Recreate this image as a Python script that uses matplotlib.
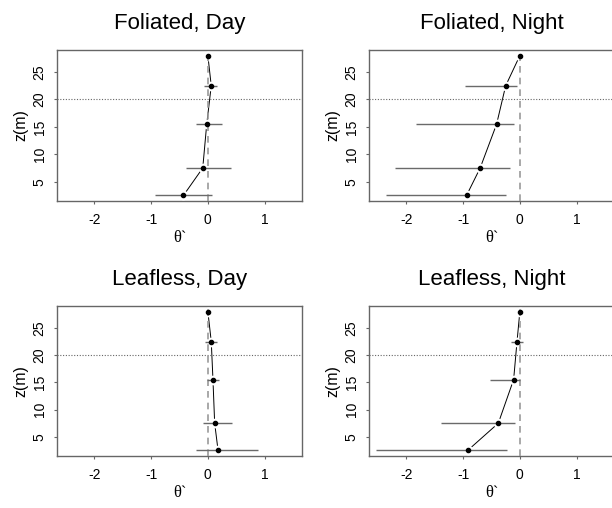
import matplotlib
matplotlib.use("Agg")
import matplotlib.pyplot as plt

plt.rcParams["font.family"] = ["Liberation Sans", "DejaVu Sans"]
plt.rcParams["axes.unicode_minus"] = False

z = [28, 22.5, 15.5, 7.5, 2.5]

titles = ["Foliated, Day", "Foliated, Night", "Leafless, Day", "Leafless, Night"]

# theta' profiles with lower / upper error-bar ends
theta = [
    [0.0, 0.06, -0.02, -0.09, -0.43],
    [0.0, -0.25, -0.41, -0.70, -0.94],
    [0.0, 0.06, 0.09, 0.12, 0.18],
    [0.0, -0.05, -0.11, -0.38, -0.92],
]
lower = [
    [0.0, -0.06, -0.21, -0.39, -0.94],
    [0.0, -0.96, -1.83, -2.20, -2.36],
    [0.0, -0.05, -0.01, -0.08, -0.21],
    [0.0, -0.15, -0.52, -1.39, -2.53],
]
upper = [
    [0.0, 0.17, 0.25, 0.41, 0.08],
    [0.0, -0.05, -0.11, -0.18, -0.24],
    [0.0, 0.17, 0.20, 0.43, 0.89],
    [0.0, 0.06, 0.0, -0.08, -0.22],
]

canopy_top = 20

W, H = 612, 508
fig = plt.figure(figsize=(W / 100, H / 100), dpi=100)

# axes boxes in pixels: left, top, right, bottom
boxes = [(57, 50, 302, 201), (369, 50, 614, 201),
         (57, 306, 302, 456), (369, 306, 614, 456)]

frame_col = "#666666"

for k, (l, t, r, b) in enumerate(boxes):
    ax = fig.add_axes([l / W, 1 - b / H, (r - l) / W, (b - t) / H])
    ax.set_xlim(-2.66, 1.66)
    ax.set_ylim(1.48, 29.02)

    # profile line, with R-style gaps round the points
    ax.plot(theta[k], z, color="black", lw=0.7, zorder=2)
    ax.plot(theta[k], z, "o", ms=7, color="white", mec="none", zorder=3)

    ax.axvline(0, color="#999999", ls=(0, (4, 3)), lw=1.2, zorder=4)
    ax.axhline(canopy_top, color="#666666", ls=(0, (1, 1.5)), lw=0.8, zorder=4)

    ax.hlines(z, lower[k], upper[k], color="#6a6a6a", lw=1.0, zorder=5)
    ax.plot(theta[k], z, "o", ms=3, color="black", zorder=6)

    ax.set_xticks([-2, -1, 0, 1])
    ax.set_yticks([5, 10, 15, 20, 25])
    ax.tick_params(length=2.5, width=0.8, color=frame_col, labelsize=10,
                   pad=5)
    ax.tick_params(axis="x", pad=6)
    for lab in ax.get_yticklabels():
        lab.set_rotation(90)
        lab.set_va("center")
    for s in ax.spines.values():
        s.set_color(frame_col)
        s.set_linewidth(1.0)

    ax.set_title(titles[k], fontsize=16, pad=15)
    ax.set_ylabel("z(m)", fontsize=11.5, labelpad=3)
    ax.set_xlabel("θ`", fontsize=12, family=["Liberation Serif", "DejaVu Serif"],
                  labelpad=2)

fig.savefig("out.png", dpi=100)
